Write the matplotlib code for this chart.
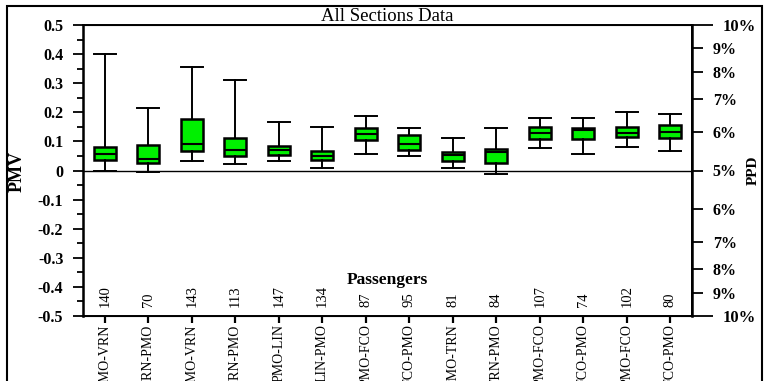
import numpy as np
import matplotlib.pyplot as plt
from matplotlib.patches import Rectangle

plt.rcParams['font.family'] = ['Liberation Serif', 'DejaVu Serif']

# route names and number of passengers on each
routes = ['PMO-VRN', 'VRN-PMO', 'PMO-VRN', 'VRN-PMO', 'PMO-LIN', 'LIN-PMO', 'PMO-FCO',
          'FCO-PMO', 'PMO-TRN', 'TRN-PMO', 'PMO-FCO', 'FCO-PMO', 'PMO-FCO', 'FCO-PMO']
passengers = [140, 70, 143, 113, 147, 134, 87, 95, 81, 84, 107, 74, 102, 80]

# PMV box stats
whis_lo = [0.000, -0.004, 0.031, 0.024, 0.032, 0.008, 0.057, 0.050, 0.010, -0.011, 0.079, 0.055, 0.081, 0.068]
q1      = [0.035, 0.026, 0.068, 0.049, 0.054, 0.036, 0.105, 0.070, 0.031, 0.025, 0.107, 0.107, 0.115, 0.112]
median  = [0.055, 0.041, 0.092, 0.071, 0.069, 0.050, 0.126, 0.091, 0.053, 0.062, 0.128, 0.139, 0.128, 0.134]
q3      = [0.081, 0.087, 0.177, 0.111, 0.085, 0.066, 0.146, 0.122, 0.065, 0.074, 0.149, 0.147, 0.151, 0.156]
whis_hi = [0.402, 0.215, 0.356, 0.312, 0.166, 0.151, 0.189, 0.146, 0.111, 0.146, 0.179, 0.179, 0.201, 0.193]

# PPD scale on the right: tick positions (in PMV units) and labels
ppd_pos = [-0.422, -0.34, -0.245, -0.133, 0.0, 0.133, 0.245, 0.34, 0.422]
ppd_lab = ['9%', '8%', '7%', '6%', '5%', '6%', '7%', '8%', '9%']
ppd_end = [-0.5, 0.5]
ppd_end_lab = ['10%', '10%']

fig = plt.figure(figsize=(7.67, 3.81), dpi=100)
ax = fig.add_axes([83/767, 1 - 316/381, 609/767, 291/381])

stats = []
for i in range(len(routes)):
    stats.append({'whislo': whis_lo[i], 'q1': q1[i], 'med': median[i],
                  'q3': q3[i], 'whishi': whis_hi[i], 'fliers': []})

pos = np.arange(1, len(routes) + 1)
ax.bxp(stats, positions=pos, widths=0.5, patch_artist=True, showfliers=False,
       boxprops=dict(facecolor='#00f000', edgecolor='black', linewidth=1.8),
       medianprops=dict(color='black', linewidth=1.5),
       whiskerprops=dict(color='black', linewidth=1.4),
       capprops=dict(color='black', linewidth=1.4), capwidths=0.5)

ax.axhline(0, color='black', lw=1.0, zorder=0)
ax.set_xlim(0.5, 14.5)
ax.set_ylim(-0.5, 0.5)

for sp in ax.spines.values():
    sp.set_linewidth(1.4)
ax.spines['left'].set_linewidth(1.8)

# left PMV axis
yt = np.arange(-0.5, 0.51, 0.1)
ax.set_yticks(yt)
ax.set_yticklabels(['%g' % round(v, 1) if abs(v) > 1e-9 else '0' for v in yt],
                   fontweight='bold', fontsize=11.5)
ax.set_yticks(np.arange(-0.45, 0.5, 0.1), minor=True)
ax.tick_params(axis='y', which='major', direction='out', length=7.2, width=1.3, pad=7)
ax.tick_params(axis='y', which='minor', direction='out', length=4.5, width=1.3)

# categories
ax.set_xticks(pos)
ax.set_xticklabels(routes, rotation=90, fontsize=10)
ax.tick_params(axis='x', direction='out', length=5, width=1.6, pad=1)

# passenger counts
for x, n in zip(pos, passengers):
    ax.text(x, -0.47, str(n), rotation=90, ha='center', va='bottom', fontsize=10.5)
ax.text(0.5, 0.122, 'Passengers', transform=ax.transAxes, ha='center', va='center',
        fontsize=12.5, fontweight='bold')

ax.set_title('All Sections Data', fontsize=13.5, pad=2)

# right PPD axis
ax2 = ax.twinx()
ax2.set_ylim(-0.5, 0.5)
ax2.spines['right'].set_linewidth(1.8)
ax2.set_yticks(ppd_end)
ax2.set_yticklabels(ppd_end_lab, fontweight='bold', fontsize=12)
ax2.set_yticks(ppd_pos, minor=True)
ax2.set_yticklabels(ppd_lab, minor=True, fontweight='bold', fontsize=11.5)
ax2.tick_params(axis='y', which='major', direction='out', length=15, width=1.3, pad=7)
ax2.tick_params(axis='y', which='minor', direction='out', length=8, width=1.3, pad=7)

fig.text(17/767, 1 - 172/381, 'PMV', rotation=90, ha='center', va='center',
         fontsize=13, fontweight='bold')
fig.text(753/767, 1 - 170/381, 'PPD', rotation=90, ha='center', va='center',
         fontsize=11, fontweight='bold')

# outer frame
fig.patches.append(Rectangle((7/767, -0.05), 755/767, 1.05 - 6/381, transform=fig.transFigure,
                             fill=False, edgecolor='black', lw=1.5))

fig.savefig('out.png', dpi=100)
